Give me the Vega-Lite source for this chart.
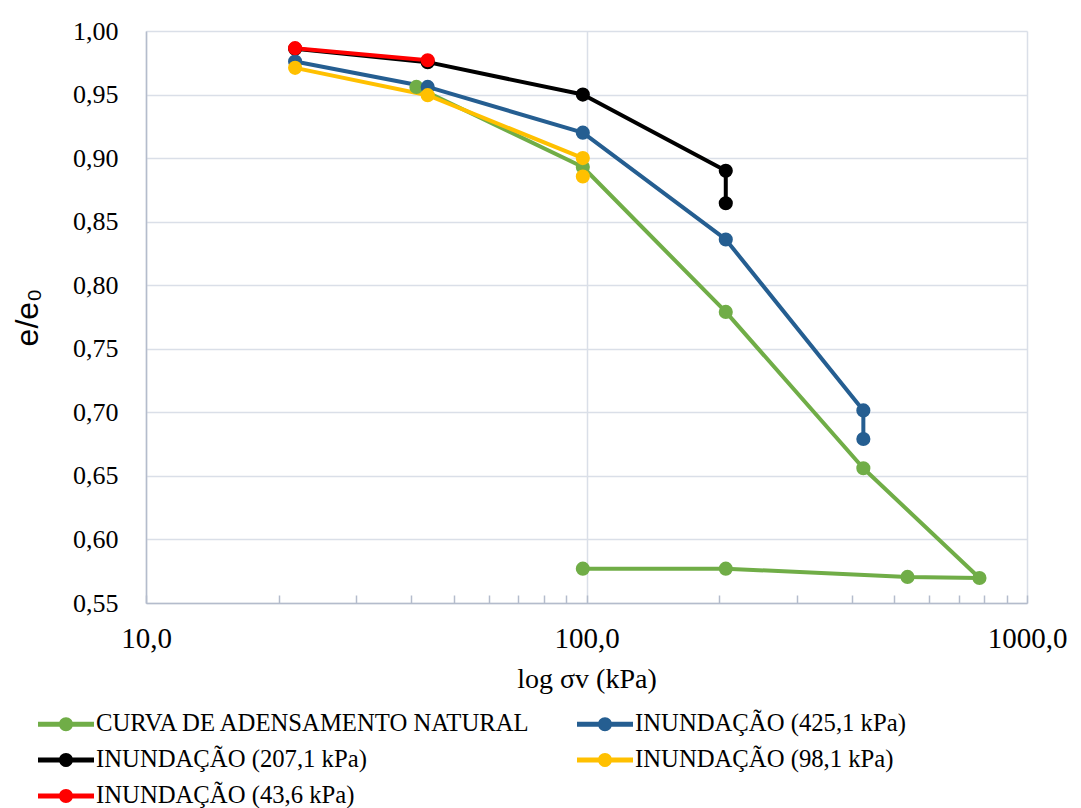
{
  "$schema": "https://vega.github.io/schema/vega-lite/v6.json",
  "width": 881,
  "height": 572,
  "autosize": "none",
  "padding": {"left": 146, "top": 31, "right": 54, "bottom": 205},
  "background": "white",
  "config": {
    "locale": {"number": {"decimal": ",", "thousands": ".", "grouping": [3], "currency": ["R$", ""]}},
    "view": {"stroke": null},
    "font": "Liberation Serif, Times New Roman, serif"
  },
  "data": {
    "values": [
      {"serie": "CURVA DE ADENSAMENTO NATURAL", "ordem": 1, "sigma": 41.1, "e": 0.956},
      {"serie": "CURVA DE ADENSAMENTO NATURAL", "ordem": 2, "sigma": 98.1, "e": 0.893},
      {"serie": "CURVA DE ADENSAMENTO NATURAL", "ordem": 3, "sigma": 207.1, "e": 0.779},
      {"serie": "CURVA DE ADENSAMENTO NATURAL", "ordem": 4, "sigma": 425.1, "e": 0.656},
      {"serie": "CURVA DE ADENSAMENTO NATURAL", "ordem": 5, "sigma": 780, "e": 0.5697},
      {"serie": "CURVA DE ADENSAMENTO NATURAL", "ordem": 6, "sigma": 535.5, "e": 0.5705},
      {"serie": "CURVA DE ADENSAMENTO NATURAL", "ordem": 7, "sigma": 207.1, "e": 0.577},
      {"serie": "CURVA DE ADENSAMENTO NATURAL", "ordem": 8, "sigma": 98.1, "e": 0.577},
      {"serie": "INUNDAÇÃO (207,1 kPa)", "ordem": 1, "sigma": 21.8, "e": 0.986},
      {"serie": "INUNDAÇÃO (207,1 kPa)", "ordem": 2, "sigma": 43.6, "e": 0.9755},
      {"serie": "INUNDAÇÃO (207,1 kPa)", "ordem": 3, "sigma": 98.1, "e": 0.950},
      {"serie": "INUNDAÇÃO (207,1 kPa)", "ordem": 4, "sigma": 207.1, "e": 0.890},
      {"serie": "INUNDAÇÃO (207,1 kPa)", "ordem": 5, "sigma": 207.1, "e": 0.8645},
      {"serie": "INUNDAÇÃO (425,1 kPa)", "ordem": 1, "sigma": 21.8, "e": 0.976},
      {"serie": "INUNDAÇÃO (425,1 kPa)", "ordem": 2, "sigma": 43.6, "e": 0.956},
      {"serie": "INUNDAÇÃO (425,1 kPa)", "ordem": 3, "sigma": 98.1, "e": 0.920},
      {"serie": "INUNDAÇÃO (425,1 kPa)", "ordem": 4, "sigma": 207.1, "e": 0.836},
      {"serie": "INUNDAÇÃO (425,1 kPa)", "ordem": 5, "sigma": 425.1, "e": 0.7015},
      {"serie": "INUNDAÇÃO (425,1 kPa)", "ordem": 6, "sigma": 425.1, "e": 0.679},
      {"serie": "INUNDAÇÃO (98,1 kPa)", "ordem": 1, "sigma": 21.8, "e": 0.971},
      {"serie": "INUNDAÇÃO (98,1 kPa)", "ordem": 2, "sigma": 43.6, "e": 0.9495},
      {"serie": "INUNDAÇÃO (98,1 kPa)", "ordem": 3, "sigma": 98.1, "e": 0.900},
      {"serie": "INUNDAÇÃO (98,1 kPa)", "ordem": 4, "sigma": 98.1, "e": 0.8855},
      {"serie": "INUNDAÇÃO (43,6 kPa)", "ordem": 1, "sigma": 21.8, "e": 0.9865},
      {"serie": "INUNDAÇÃO (43,6 kPa)", "ordem": 2, "sigma": 43.6, "e": 0.977}
    ]
  },
  "encoding": {
    "x": {
      "field": "sigma", "type": "quantitative",
      "scale": {"type": "log", "domain": [10, 1000], "nice": false},
      "axis": {
        "title": "log σv (kPa)",
        "titleFont": "Liberation Serif", "titleFontSize": 28, "titleFontWeight": "normal", "titleColor": "black", "titlePadding": 12,
        "values": [10, 20, 30, 40, 50, 60, 70, 80, 90, 100, 200, 300, 400, 500, 600, 700, 800, 900, 1000],
        "format": ".1f",
        "labelExpr": "indexof([10,100,1000], datum.value) >= 0 ? datum.label : ''",
        "labelFont": "Liberation Serif", "labelFontSize": 29, "labelColor": "black", "labelPadding": 29,
        "labelFlush": false, "labelOverlap": false,
        "tickSize": -8, "tickColor": "#b4bccc", "tickWidth": 1.5,
        "domainColor": "#b4bccc", "domainWidth": 1.5,
        "grid": true,
        "gridColor": "#dadfe8", "gridWidth": 1.5,
        "gridOpacity": {"condition": {"test": "indexof([10,100,1000], datum.value) >= 0", "value": 1}, "value": 0}
      }
    },
    "y": {
      "field": "e", "type": "quantitative",
      "scale": {"domain": [0.55, 1.0], "nice": false, "zero": false},
      "axis": {
        "title": "e/e₀",
        "titleFont": "Liberation Sans", "titleFontSize": 32, "titleFontWeight": "normal", "titleColor": "black", "titlePadding": 28,
        "values": [0.55, 0.6, 0.65, 0.7, 0.75, 0.8, 0.85, 0.9, 0.95, 1.0],
        "format": ".2f",
        "labelFont": "Liberation Serif", "labelFontSize": 26, "labelColor": "black", "labelPadding": 28,
        "tickSize": 0, "ticks": false,
        "domainColor": "#b4bccc", "domainWidth": 1.5,
        "grid": true, "gridColor": "#dadfe8", "gridWidth": 1.5
      }
    },
    "color": {
      "field": "serie", "type": "nominal",
      "scale": {
        "domain": ["CURVA DE ADENSAMENTO NATURAL", "INUNDAÇÃO (207,1 kPa)", "INUNDAÇÃO (43,6 kPa)", "INUNDAÇÃO (425,1 kPa)", "INUNDAÇÃO (98,1 kPa)"],
        "range": ["#70ad47", "#000000", "#ff0000", "#255e91", "#ffc000"]
      },
      "legend": {
        "title": null,
        "orient": "none",
        "legendX": -94,
        "legendY": 679,
        "columns": 2,
        "columnPadding": 45,
        "rowPadding": 10,
        "symbolType": "M-2,-0.18 L2,-0.18 L2,0.18 L-2,0.18 Z M0.5,0 A0.5,0.5 0 1,1 -0.5,0 A0.5,0.5 0 1,1 0.5,0 Z",
        "symbolSize": 784,
        "symbolStrokeWidth": 0,
        "symbolOpacity": 1,
        "labelFont": "Liberation Serif",
        "labelFontSize": 24.7,
        "labelColor": "black",
        "labelOffset": 16,
        "labelLimit": 700
      }
    }
  },
  "layer": [
    {
      "mark": {"type": "line", "strokeWidth": 4, "strokeCap": "round", "strokeJoin": "round"},
      "encoding": {
        "order": {"field": "ordem", "type": "quantitative"},
        "strokeWidth": {
          "condition": {"test": "datum.serie === 'CURVA DE ADENSAMENTO NATURAL'", "value": 3},
          "value": 4.5
        }
      }
    },
    {
      "mark": {"type": "point", "filled": true, "shape": "circle", "size": 200, "opacity": 1},
      "encoding": {}
    }
  ]
}
